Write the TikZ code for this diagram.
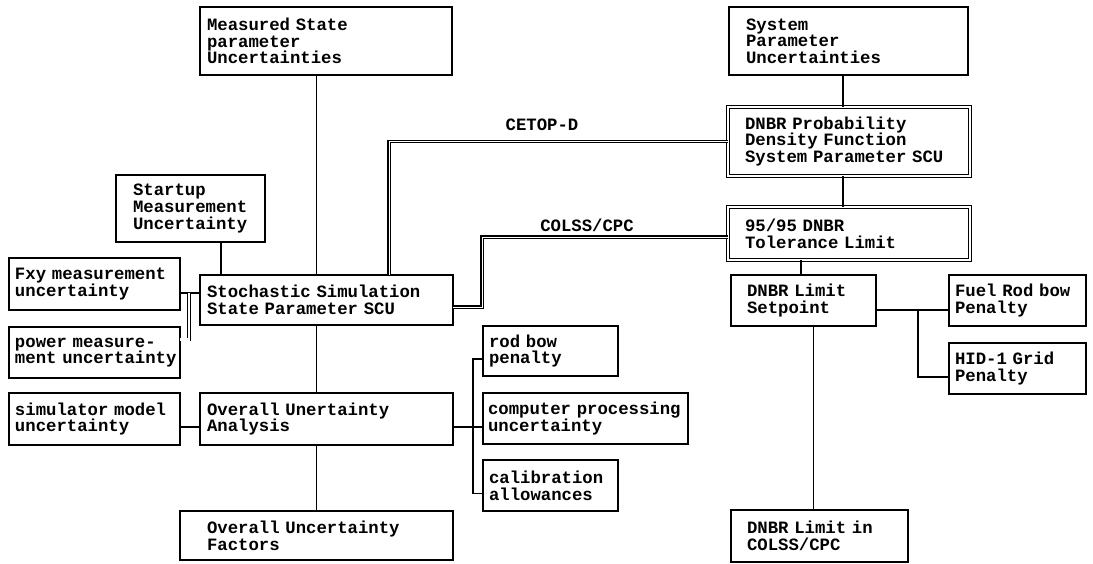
\documentclass[tikz,border=0pt]{standalone}
\usepackage{fontspec}
\setmainfont{Liberation Mono}[WordSpace={1,0,0}]
\hyphenpenalty=10000
\exhyphenpenalty=10000

\begin{document}
\begin{tikzpicture}[x=1pt,y=-1pt,line width=1.2pt,
  every node/.style={font=\fontsize{17.3}{16.7}\selectfont\bfseries},
  box/.code n args={3}{\pgfmathsetmacro\boxtw{#1-2*#3}%
    \pgfkeysalso{draw,anchor=north west,align=left,inner ysep=0pt,outer sep=0pt,
      minimum width=#1pt,minimum height=#2pt,inner xsep=#3pt,text width=\boxtw pt}},
  dbl/.style={double,double distance=1.6pt,line width=1.3pt},
  heavy/.style={double,double distance=0.45pt,line width=1.6pt},
  twin/.style={double,double distance=2.2pt,line width=0.8pt}]
\useasboundingbox (0,0) rectangle (1093,563);

% left half
\node at(200,7)[box={252}{68}{7}](meas){Measured State\\parameter\\Uncertainties};
\node at(116,175)[box={149}{67}{17}](start){Startup\\Measurement\\Uncertainty};
\node at(9,258)[box={171}{52}{6}](fxy){Fxy~measurement\\uncertainty};
\node at(200,275)[box={253}{50}{7}](stoch){Stochastic~Simulation\\State~Parameter~SCU};
\node at(9,327)[box={171}{51}{6}](power){power measure-\\ment~uncertainty};
\node at(9,393)[box={171}{52}{6}](simm){simulator~model\\uncertainty};
\node at(200,393)[box={253}{52}{7}](anal){Overall Unertainty\\Analysis};
\node at(180,511)[box={273}{49}{27}](fact){Overall Uncertainty\\Factors};
\node at(483,326)[box={135}{50}{6}](rodb){rod bow\\penalty};
\node at(483,393)[box={205}{51}{5}](comp){computer~processing\\uncertainty};
\node at(483,460)[box={135}{51}{6}](cali){calibration\\allowances};

% right half
\node at(729,7)[box={239}{68}{17}](sysp){System\\Parameter\\Uncertainties};
\node at(728,107)[box={242}{69}{17},dbl](pdf){DNBR Probability\\Density Function\\System~Parameter~SCU};
\node at(728,207)[box={242}{53}{17},dbl](tol){95/95 DNBR\\Tolerance Limit};
\node at(731,275)[box={145}{51}{16}](setp){DNBR Limit\\Setpoint};
\node at(949,275)[box={137}{51}{6}](fuel){Fuel~Rod~bow\\Penalty};
\node at(949,343)[box={137}{51}{6}](hid){HID-1 Grid\\Penalty};
\node at(731,510)[box={177}{52}{16}](dlim){DNBR Limit in\\COLSS/CPC};

\node at(542,125)(cetop){CETOP-D};
\node at(587,225)(colss){COLSS/CPC};

\draw(meas.south -| fact.north)--(stoch.north -| fact.north);
\draw([xshift=30.5pt]start.south)--([xshift=-105.5pt]stoch.north);
\draw(stoch.south -| fact.north)--(anal.north -| fact.north);
\draw(anal.south -| fact.north)--(fact.north);
\draw([yshift=-9pt]fxy.east)--([yshift=7pt]stoch.west);
\coordinate(fj) at(189,293);
\draw[twin](fj)|-([yshift=13pt]power.east);
\draw([yshift=-8pt]simm.east)--([yshift=-8pt]anal.west);
\draw([yshift=-8pt]anal.east)--([yshift=-8.5pt]comp.west);
\coordinate(rb) at(473,493.5);
\draw([yshift=-8pt]rodb.west)-|(rb)--([yshift=-8pt]cali.west);

\draw[heavy](pdf.west)-|([xshift=62.5pt]stoch.north);
\coordinate(cb) at(482,237);
\draw[heavy]([yshift=-7pt]stoch.east)-|(cb)--([yshift=-3.5pt]tol.west);

\draw([xshift=-6pt]pdf.north)--([xshift=-5.5pt]sysp.south);
\draw([xshift=-6pt]pdf.south)--([xshift=-6pt]tol.north);
\draw([xshift=-48pt]tol.south)--([xshift=-2.5pt]setp.north);
\draw([xshift=10pt]setp.south)--([xshift=-6pt]dlim.north);
\draw([yshift=-9.5pt]setp.east)--([yshift=-9.5pt]fuel.west);
\coordinate(hb) at(918,310);
\draw(hb)|-([yshift=-8.5pt]hid.west);
\end{tikzpicture}
\end{document}
